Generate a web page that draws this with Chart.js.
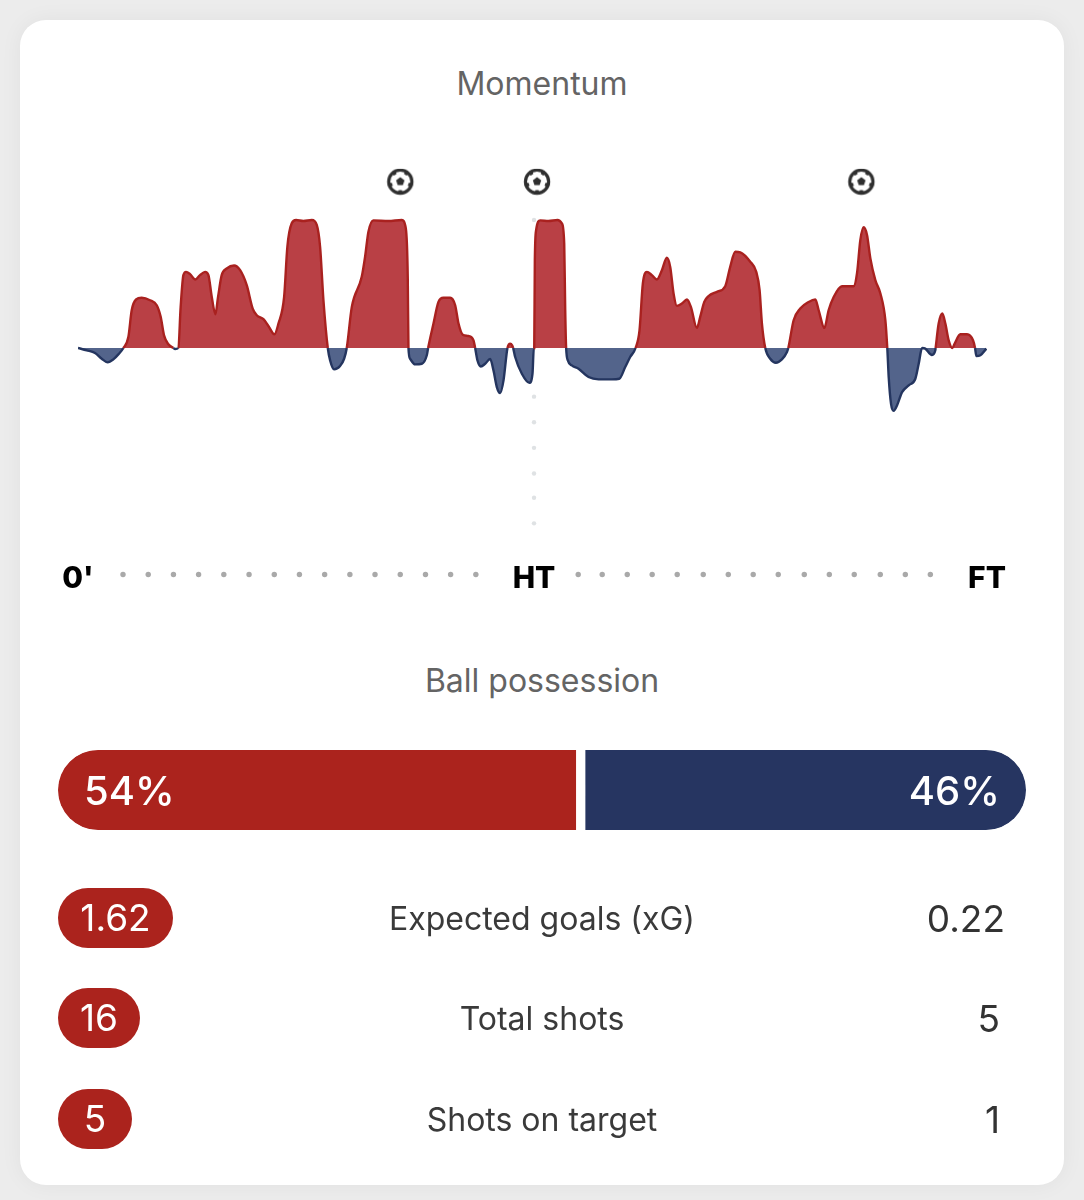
<!DOCTYPE html>
<html><head><meta charset="utf-8">
<script src="https://cdn.jsdelivr.net/npm/chart.js@4"></script>
<style>
html,body{margin:0;padding:0;width:1084px;height:1200px;overflow:hidden;background:#ececec;font-family:Inter,"Noto Sans",sans-serif}
#card{position:absolute;left:20px;top:20px;width:1044px;height:1165px;background:#fff;border-radius:26px;box-shadow:0 0 22px rgba(0,0,0,.05)}
canvas{position:absolute}
.t{position:absolute;white-space:nowrap;line-height:1}
.title{left:0;width:1084px;text-align:center;color:#646464;font-size:32px;font-weight:400}
.pill{position:absolute;left:58px;height:60px;border-radius:30px;background:#ab231d;color:#fff;font-size:37px;text-align:center;line-height:60px}
.lab{left:0;width:1084px;text-align:center;color:#3a3a3a;font-size:32px}
.rv{color:#333;font-size:37px;text-align:right}
.pct{color:#fff;font-size:40px;font-weight:500}
</style></head><body>
<div id="card"></div>
<div class="t title" style="top:68px">Momentum</div>
<canvas id="m" width="1084" height="640" style="left:0;top:0;width:1084px;height:640px"></canvas>
<div class="t title" style="top:665px" id="posT"></div>
<canvas id="p" width="968" height="80" style="left:58px;top:750px;width:968px;height:80px"></canvas>
<div id="over"></div>
<script>
const minutes=[0,0.86,1.68,2.34,2.93,3.49,3.98,4.48,4.97,5.30,5.73,6.28,7.11,7.77,8.16,8.49,8.92,9.41,9.58,9.90,10.13,10.40,10.66,11.06,11.58,12.04,12.54,12.87,13.20,13.56,13.82,14.18,14.68,15.40,16.00,16.65,17.24,17.64,18.30,18.79,19.38,19.78,20.34,20.66,21.09,21.52,22.24,23.07,23.56,23.89,24.22,24.65,24.88,25.27,25.86,26.26,26.52,27.02,28.00,28.33,28.66,29.15,30.63,31.95,32.35,32.54,32.61,32.77,33.27,33.93,34.42,34.55,35.08,35.57,36.06,36.72,37.22,37.55,37.97,38.53,39.03,39.19,39.42,39.75,40.18,40.67,41.00,41.33,41.66,41.99,42.38,42.65,42.84,42.94,43.14,43.80,44.55,44.85,44.98,
45.02,45.08,45.21,45.61,46.43,47.32,47.75,47.98,48.08,48.17,48.34,48.73,49.39,50.38,51.37,52.68,53.41,54.00,54.49,55.02,55.41,55.74,56.14,56.63,57.12,57.62,58.11,58.44,58.77,59.10,59.59,60.09,60.48,61.07,61.40,61.80,62.22,63.05,63.87,64.36,64.86,65.35,66.34,66.93,67.26,67.49,67.82,68.31,68.87,69.46,69.96,70.09,70.62,71.27,72.10,72.76,73.09,73.65,74.07,74.57,75.39,76.54,76.87,77.20,77.53,77.86,78.19,78.68,79.18,79.67,79.86,80.00,80.23,80.49,80.82,81.32,81.97,82.63,82.96,83.29,83.61,84.27,84.60,84.63,84.93,85.29,85.59,85.92,86.28,86.51,87.07,87.73,88.32,88.52,88.65,89.05,89.64];
const momentum=[0,-1.8,-3.9,-8.4,-11.2,-8.9,-5.0,0,8.6,29.5,37.9,39.2,37.3,33.4,24.3,9.9,2.9,0,-0.8,0,32.1,56.9,59.5,57.7,53.5,56.9,59.5,56.9,39.9,26.4,39.9,56.9,62.1,64.5,60.8,49.1,30.8,25.6,22.5,17.2,10.7,19.1,39.9,79.1,97.4,100,99.2,100,96.1,79.1,37.3,0,-9.7,-16.7,-14.1,-8.4,0,32.1,55.6,71.3,90.9,99.7,99.2,100,93.5,55.6,0,-8.4,-12.8,-12.3,-5.7,0,19.1,36.0,39.2,39.2,33.4,19.1,10.4,9.4,6.0,0,-9.7,-14.4,-12.3,-8.6,-17.5,-30.5,-35.2,-25.3,0,3.4,2.1,0,-7.0,-20.1,-27.2,-20.1,0,
0,68.7,92.2,99.7,99.2,100,97.4,81.7,29.5,0,-9.7,-13.6,-16.2,-22.7,-24.5,-24.5,-24.0,-14.9,-7.0,0,13.8,50.4,59.5,56.9,53.5,60.8,70.5,63.4,42.6,32.9,34.7,37.9,32.1,15.7,24.3,36.0,40.5,43.9,48.3,63.4,75.2,74.7,67.4,59.5,45.2,19.1,0,-8.4,-11.5,-8.9,-3.1,0,21.7,30.8,36.0,37.9,29.5,15.7,29.5,39.9,48.3,48.3,58.2,84.3,94.3,88.3,70.0,53.0,42.6,21.7,0,-22.7,-43.6,-49.1,-44.9,-34.5,-29.2,-24.0,-12.3,0,-0.5,-5.5,-1.8,0,19.1,26.9,19.1,6.0,0,3.4,10.7,10.7,6.0,0,-6.3,-5.7,-0.5];
const goalMinutes=[31.8,45.3,77.3];
const goalLevel=[130,130,130];
const axisDotMinutes=[4.44,6.93,9.42,11.9,14.39,16.88,19.37,21.85,24.34,26.83,29.31,31.8,34.29,36.77,39.26,49.36,51.73,54.2,56.66,59.13,61.7,64.17,66.63,69.1,71.67,74.14,76.6,79.17,81.64,84.11];
const axisDotLevel=-177;
const htDotLevels=[121,100,-38,-58,-78,-98,-117,-137];
const htMinute=45;
const timeTicks=[0,45,89.7];
const timeLabels=["0'","HT","FT"];
const possessionTeams=["54%","46%"];
const possessionValues=[54,46];
const statLabels=["Expected goals (xG)","Total shots","Shots on target"];
const homeStats=["1.62","16","5"];
const awayStats=["0.22","5","1"];

const RED='#a9211f',NAVY='#24355f',REDF='#b94045',NAVYF='#53648b';
Chart.defaults.animation=false;

function ball(){
  const s=30,c=document.createElement('canvas');c.width=c.height=s;
  const x=c.getContext('2d'),m=s/2;
  x.strokeStyle='#2f2f2f';x.fillStyle='#2f2f2f';x.lineWidth=3.2;
  x.beginPath();x.arc(m,m,11.6,0,7);x.stroke();
  const pent=(cx,cy,r,rot)=>{x.beginPath();for(let i=0;i<5;i++){const a=rot+i*2*Math.PI/5;x[i?'lineTo':'moveTo'](cx+r*Math.cos(a),cy+r*Math.sin(a));}x.closePath();x.fill();};
  pent(m,m,4.4,-Math.PI/2);
  for(let i=0;i<5;i++){const a=-Math.PI/2+i*2*Math.PI/5+Math.PI/5;pent(m+10.5*Math.cos(a),m+10.5*Math.sin(a),2.6,a);}
  return c;
}
const zip=(xs,ys)=>xs.map((v,i)=>({x:v,y:ys[i]}));

new Chart(document.getElementById('m'),{
  type:'line',
  data:{datasets:[
    {data:zip(minutes,momentum),borderWidth:2.4,pointRadius:0,cubicInterpolationMode:'monotone',order:2,
     fill:{target:{value:0},above:REDF,below:NAVYF},borderColor:RED,
     segment:{borderColor:c=>(c.p0.parsed.y+c.p1.parsed.y)>=0?RED:NAVY}},
    {data:htDotLevels.map(v=>({x:htMinute,y:v})),showLine:false,pointRadius:2.2,pointBackgroundColor:'#dfe2e4',pointBorderWidth:0,order:3},
    {data:axisDotMinutes.map(v=>({x:v,y:axisDotLevel})),showLine:false,pointRadius:2.7,pointBackgroundColor:'#a9a9a9',pointBorderWidth:0,order:1},
    {data:zip(goalMinutes,goalLevel),showLine:false,pointStyle:ball(),pointRadius:15,order:0}
  ]},
  options:{responsive:false,
    layout:{padding:{left:78,right:1084-987,top:168.8,bottom:36}},
    plugins:{legend:{display:false},tooltip:{enabled:false}},
    scales:{
      y:{display:false,min:-200,max:140},
      x:{type:'linear',min:0,max:89.7,position:{y:axisDotLevel},
         grid:{display:false,drawTicks:false},border:{display:false},
         afterBuildTicks:s=>{s.ticks=timeTicks.map(v=>({value:v}));},
         ticks:{autoSkip:false,maxRotation:0,padding:-14,color:'#000',font:{family:'Inter',size:30,weight:'800'},
           callback:v=>timeLabels[timeTicks.indexOf(v)]}}
    }}
});

new Chart(document.getElementById('p'),{
  type:'bar',
  data:{labels:['Ball possession'],datasets:[
    {data:[possessionValues[0]],backgroundColor:'#ab231d',borderColor:'#fff',borderWidth:{right:5,left:0,top:0,bottom:0},borderSkipped:false,borderRadius:{topLeft:40,bottomLeft:40,topRight:0,bottomRight:0}},
    {data:[possessionValues[1]],backgroundColor:'#263561',borderColor:'#fff',borderWidth:{left:5,right:0,top:0,bottom:0},borderSkipped:false,borderRadius:{topRight:40,bottomRight:40,topLeft:0,bottomLeft:0}}
  ]},
  options:{responsive:false,indexAxis:'y',layout:{padding:0},
    plugins:{legend:{display:false},tooltip:{enabled:false}},
    datasets:{bar:{barPercentage:1,categoryPercentage:1}},
    scales:{x:{display:false,stacked:true,min:0,max:100},y:{display:false,stacked:true}}}
});

document.getElementById('posT').textContent='Ball possession';
const over=document.getElementById('over');
const add=(cls,txt,css)=>{const d=document.createElement('div');d.className=cls;d.textContent=txt;d.style.cssText=css;over.appendChild(d);};
add('t pct',possessionTeams[0],'left:84px;top:771px');
add('t pct',possessionTeams[1],'right:84px;top:771px');
const rowTop=[888,988,1089],pillW=[115,82,74],rvRight=[79,84,84];
statLabels.forEach((l,i)=>{
  add('pill',homeStats[i],`top:${rowTop[i]}px;width:${pillW[i]}px`);
  add('t lab',l,`top:${rowTop[i]+15}px`);
  add('t rv',awayStats[i],`top:${rowTop[i]+12}px;right:${rvRight[i]}px`);
});
</script></body></html>
